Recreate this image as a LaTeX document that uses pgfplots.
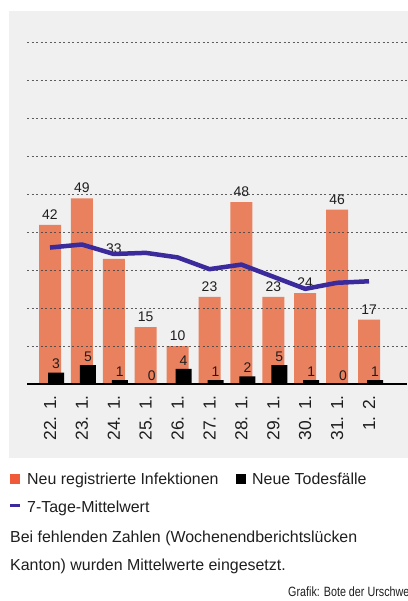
\documentclass[border=0pt]{standalone}
\usepackage{pgfplots}
\pgfplotsset{compat=1.18}
\usepackage{fontspec}
\setmainfont{Liberation Sans}
\newfontfamily\condfont[FakeStretch=0.8]{Liberation Sans}
\definecolor{bgray}{HTML}{F0F0F0}
\definecolor{barorange}{HTML}{E9805E}
\definecolor{legorange}{HTML}{F05A38}
\definecolor{linecol}{HTML}{3B2A9B}
\definecolor{txt}{HTML}{1E1E1E}
\definecolor{gridc}{HTML}{444444}
\begin{document}
\begin{tikzpicture}[x=1bp,y=1bp]
\fill[bgray] (9,143) rectangle (420,590);
\begin{axis}[
  at={(27bp,217bp)}, anchor=south west,
  x=31.9bp, y=3.79bp,
  xmin=-0.721, xmax=11.19, ymin=0, ymax=95,
  set layers, axis on top,
  axis x line*=bottom, axis y line*=left,
  x axis line style={-, black, line width=1.3bp},
  y axis line style={draw=none},
  ytick={10,20,...,90}, yticklabels={},
  ymajorgrids,
  grid style={gridc, line width=1bp, dash pattern=on 2.2bp off 2.3bp, opacity=0.85},
  major tick length=0pt,
  xtick={0,...,10},
  xticklabels={22. 1.,23. 1.,24. 1.,25. 1.,26. 1.,27. 1.,28. 1.,29. 1.,30. 1.,31. 1.,1. 2.},
  xticklabel style={rotate=90, anchor=east, inner sep=0pt, font=\fontsize{17.5}{17.5}\selectfont, text=txt},
  xticklabel shift=11bp,
  /pgf/number format/assume math mode=true,
  nodes near coords style={font=\fontsize{14}{14}\selectfont, text=txt, anchor=south, inner sep=0pt},
]
\addplot[ybar, bar width=22bp, bar shift=0pt, fill=barorange, draw=none,
  nodes near coords, nodes near coords style={yshift=5bp}]
  coordinates {(0,42) (1,49) (2,33) (3,15) (4,10) (5,23) (6,48) (7,23) (8,24) (9,46) (10,17)};
\addplot[ybar, bar width=16bp, bar shift=6bp, fill=black, draw=none,
  nodes near coords, nodes near coords style={yshift=3.5bp, xshift=6bp}]
  coordinates {(0,3) (1,5) (2,1) (3,0) (4,4) (5,1) (6,2) (7,5) (8,1) (9,0) (10,1)};
\addplot[linecol, line width=4.5bp, line join=round, on layer=axis foreground]
  coordinates {(0,36.0) (1,36.8) (2,34.3) (3,34.6) (4,33.4) (5,30.3) (6,31.5) (7,28.3) (8,25.1) (9,26.7) (10,27.1)};
\end{axis}
\fill[legorange] (10,117) rectangle (20,127);
\node[anchor=base west, inner sep=0pt, text=txt, font=\fontsize{16}{16}\selectfont] at (27,116) {Neu registrierte Infektionen};
\fill[black] (236,117) rectangle (246,127);
\node[anchor=base west, inner sep=0pt, text=txt, font=\fontsize{16}{16}\selectfont] at (252,116) {Neue Todesfälle};
\fill[linecol] (10,93.8) rectangle (20,96.6);
\node[anchor=base west, inner sep=0pt, text=txt, font=\fontsize{16}{16}\selectfont] at (27,88) {7-Tage-Mittelwert};
\node[anchor=base west, inner sep=0pt, text=txt, font=\fontsize{16}{16}\selectfont] at (10,58) {Bei fehlenden Zahlen (Wochenendberichtslücken};
\node[anchor=base west, inner sep=0pt, text=txt, font=\fontsize{16}{16}\selectfont] at (10,30) {Kanton) wurden Mittelwerte eingesetzt.};
\node[anchor=base west, inner sep=0pt, text=txt, font=\condfont\fontsize{13.5}{13.5}\selectfont] at (288,4) {Grafik: Bote der Urschweiz};
\pgfresetboundingbox
\useasboundingbox (0,0) rectangle (407,601);
\end{tikzpicture}
\end{document}
